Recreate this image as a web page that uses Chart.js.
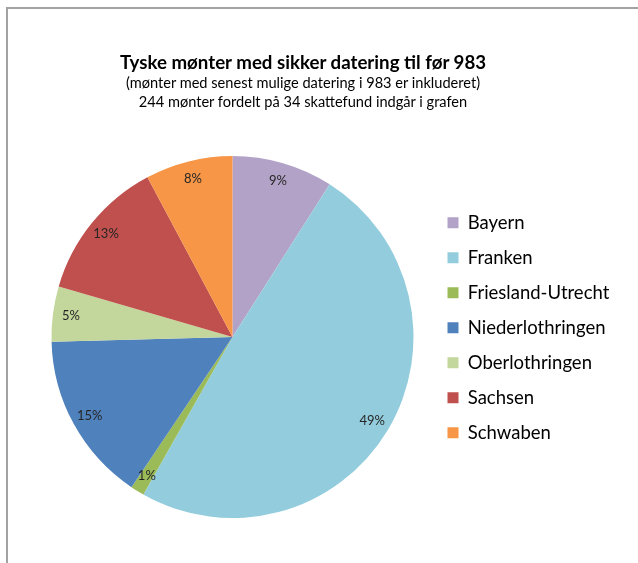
<!DOCTYPE html>
<html>
<head>
<meta charset="utf-8">
<script src="https://cdn.jsdelivr.net/npm/chart.js@4"></script>
<style>
  body { margin: 0; background: #fff; }
  #wrap { position: relative; width: 638px; height: 563px; overflow: hidden; font-family: Lato, sans-serif; color: #000; }
  #frame { position: absolute; left: 6px; top: 7px; width: 700px; height: 600px;
           border-top: 2px solid #a3a3a3; border-left: 2px solid #a3a3a3; }
  canvas { position: absolute; left: 0; top: 0; }
  #title { position: absolute; left: 0; width: 606px; top: 51px; text-align: center;
           font-size: 18.7px; font-weight: bold; line-height: 22px; white-space: nowrap; }
  #subtitle { position: absolute; left: 0; width: 606px; top: 73px; text-align: center;
              font-size: 14.6px; line-height: 19px; white-space: nowrap; }
</style>
</head>
<body>
<div id="wrap">
  <div id="frame"></div>
  <canvas id="pie" width="638" height="563"></canvas>
  <div id="title"></div>
  <div id="subtitle"></div>
</div>
<script>
const regions = ['Bayern', 'Franken', 'Friesland-Utrecht', 'Niederlothringen', 'Oberlothringen', 'Sachsen', 'Schwaben'];
// antal mønter (244 i alt), aflæst via procenterne
const coins = [22, 120, 3, 37, 12, 31, 19];
const sliceColors = ['#B3A2C7', '#93CDDD', '#9BBB59', '#4F81BD', '#C3D69B', '#C0504D', '#F79646'];

const titleText = 'Tyske mønter med sikker datering til før 983';
const subtitleLines = ['(mønter med senest mulige datering i 983 er inkluderet)', '244 mønter fordelt på 34 skattefund indgår i grafen'];

document.getElementById('title').textContent = titleText;
document.getElementById('subtitle').innerHTML = subtitleLines.map(s => s.replace(/&/g, '&amp;').replace(/</g, '&lt;')).join('<br>');

const legendFont = 18.5, legendPad = 16.5, legendBox = 11, legendLeft = 431;

// procent-labels inde i skiverne
const pctLabels = {
  id: 'pctLabels',
  afterDatasetsDraw(chart) {
    const ctx = chart.ctx;
    const meta = chart.getDatasetMeta(0);
    const vals = chart.data.datasets[0].data;
    const total = vals.reduce((s, v) => s + v, 0);
    ctx.save();
    ctx.font = '13px Lato';
    ctx.fillStyle = '#262626';
    ctx.textAlign = 'center';
    ctx.textBaseline = 'middle';
    meta.data.forEach((arc, i) => {
      const p = arc.getProps(['x', 'y', 'startAngle', 'endAngle', 'outerRadius'], true);
      const mid = (p.startAngle + p.endAngle) / 2;
      const r = p.outerRadius * 0.9;
      ctx.fillText(Math.round(vals[i] / total * 100) + '%', p.x + Math.cos(mid) * r, p.y + Math.sin(mid) * r);
    });
    ctx.restore();
  }
};

const chart = new Chart(document.getElementById('pie').getContext('2d'), {
  type: 'pie',
  data: {
    labels: regions,
    datasets: [{
      data: coins,
      backgroundColor: sliceColors,
      borderWidth: 0
    }]
  },
  options: {
    responsive: false,
    animation: false,
    layout: { padding: { left: 34, right: 0, top: 156, bottom: 45 } },
    plugins: {
      legend: {
        position: 'right',
        align: 'start',
        title: { display: true, text: '', font: { size: 10, lineHeight: 1.2 }, padding: { top: 29, bottom: 0 } },
        labels: {
          boxWidth: legendBox,
          boxHeight: legendBox,
          padding: legendPad,
          color: '#000',
          font: { family: 'Lato', size: legendFont }
        }
      },
      tooltip: { enabled: false }
    }
  },
  plugins: [pctLabels]
});

// skub legenden (og dermed kagen) paa plads ud fra den maalte legendebredde
const shift = chart.legend.left - legendLeft;
if (shift > 0) {
  chart.options.layout.padding.right = shift;
  chart.update();
}
</script>
</body>
</html>
